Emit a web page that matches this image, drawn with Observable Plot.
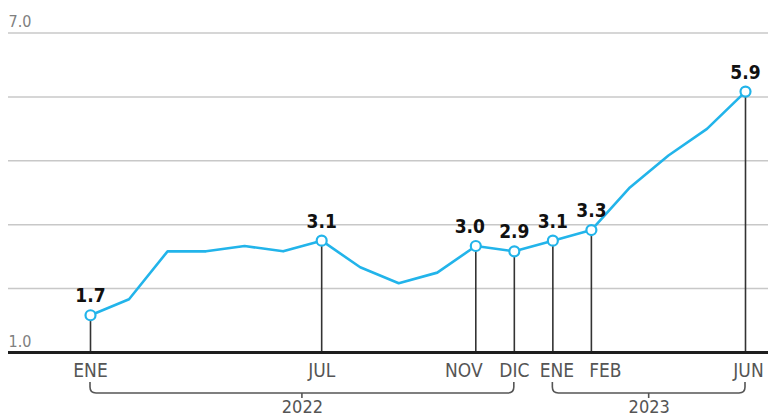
<!DOCTYPE html>
<html>
<head>
<meta charset="utf-8">
<script src="https://cdn.jsdelivr.net/npm/d3@7"></script>
<script src="https://cdn.jsdelivr.net/npm/@observablehq/plot@0.6"></script>
<style>
  html, body { margin: 0; padding: 0; background: #fff; }
  #chart svg { display: block; }
</style>
</head>
<body>
<div id="chart"></div>
<script>
const months = ["ENE","FEB","MAR","ABR","MAY","JUN","JUL","AGO","SEP","OCT","NOV","DIC","ENE","FEB","MAR","ABR","MAY","JUN"];
const years = [2022,2022,2022,2022,2022,2022,2022,2022,2022,2022,2022,2022,2023,2023,2023,2023,2023,2023];
const values = [1.7,2.0,2.9,2.9,3.0,2.9,3.1,2.6,2.3,2.5,3.0,2.9,3.1,3.3,4.1,4.7,5.2,5.9];
const highlighted = [0,6,10,11,12,13,17];
const gridTicks = [2.2,3.4,4.6,5.8,7.0];
const yLabels = [1.0,7.0];
const yearGroups = [2022,2023];

const FONT = '"Liberation Sans Narrow","DejaVu Sans Condensed","Roboto Condensed",sans-serif';
const BLUE = "#22b4ea";

const data = values.map((v,i) => ({i, month: months[i], year: years[i], value: v}));
const marked = data.filter(d => highlighted.includes(d.i));
const groups = yearGroups.map(y => {
  const idx = highlighted.filter(i => years[i] === y);
  return {year: y, start: d3.min(idx), end: d3.max(idx), mid: (d3.min(idx)+d3.max(idx))/2};
});

const nudgeLabel = {10: -12, 12: 4, 13: 14, 17: 3};
const nudgeValue = {10: -6};

function brackets(index, scales) {
  const g = d3.create("svg:g")
    .attr("fill","none").attr("stroke","#555").attr("stroke-width",1.6);
  const base = scales.y(1);
  const top = base + 30, bot = base + 41, r = 6;
  for (const gr of groups) {
    const a = scales.x(gr.start), b = scales.x(gr.end), m = scales.x(gr.mid);
    g.append("path").attr("d",
      `M${a},${top}V${bot-r}Q${a},${bot} ${a+r},${bot}H${b-r}Q${b},${bot} ${b},${bot-r}V${top}`);
    g.append("path").attr("d", `M${m},${bot}V${bot+5}`);
  }
  return g.node();
}

const chart = Plot.plot({
  width: 768,
  height: 420,
  marginLeft: 8,
  marginRight: 0,
  marginTop: 0,
  marginBottom: 0,
  x: {domain: [0, 17], range: [90, 745], axis: null},
  y: {domain: [1, 7], range: [352, 32.5], axis: null},
  style: {fontFamily: FONT, background: "#fff"},
  marks: [
    Plot.ruleY(gridTicks, {stroke: "#c8c8c8", strokeWidth: 1.5}),
    Plot.text(yLabels, {y: d => d, text: d => d.toFixed(1), frameAnchor: "left", textAnchor: "start",
      lineAnchor: "bottom", dy: -6, fill: "#808080", fontSize: 16}),
    Plot.ruleX(marked, {x: "i", y1: 1, y2: "value", stroke: "#333", strokeWidth: 1.6}),
    Plot.ruleY([1], {stroke: "#1e1e1e", strokeWidth: 3}),
    Plot.line(data, {x: "i", y: "value", stroke: BLUE, strokeWidth: 2.6, strokeLinejoin: "round"}),
    Plot.dot(marked, {x: "i", y: "value", r: 5, fill: "#fff", stroke: BLUE, strokeWidth: 2.2}),
    ...marked.map(d => Plot.text([d], {x: "i", y: "value", text: d => d.value.toFixed(1),
      dx: nudgeValue[d.i] || 0, dy: -13, lineAnchor: "bottom", fontWeight: "bold",
      fontSize: 19, fill: "#111"})),
    ...marked.map(d => Plot.text([d], {x: "i", y: () => 1, text: "month",
      dx: nudgeLabel[d.i] || 0, dy: 11, lineAnchor: "top", fontSize: 19, fill: "#555"})),
    Plot.text(groups, {x: "mid", y: () => 1, text: d => String(d.year), dy: 48,
      lineAnchor: "top", fontSize: 18, fill: "#555"}),
    brackets
  ]
});
document.getElementById("chart").append(chart);
</script>
</body>
</html>
